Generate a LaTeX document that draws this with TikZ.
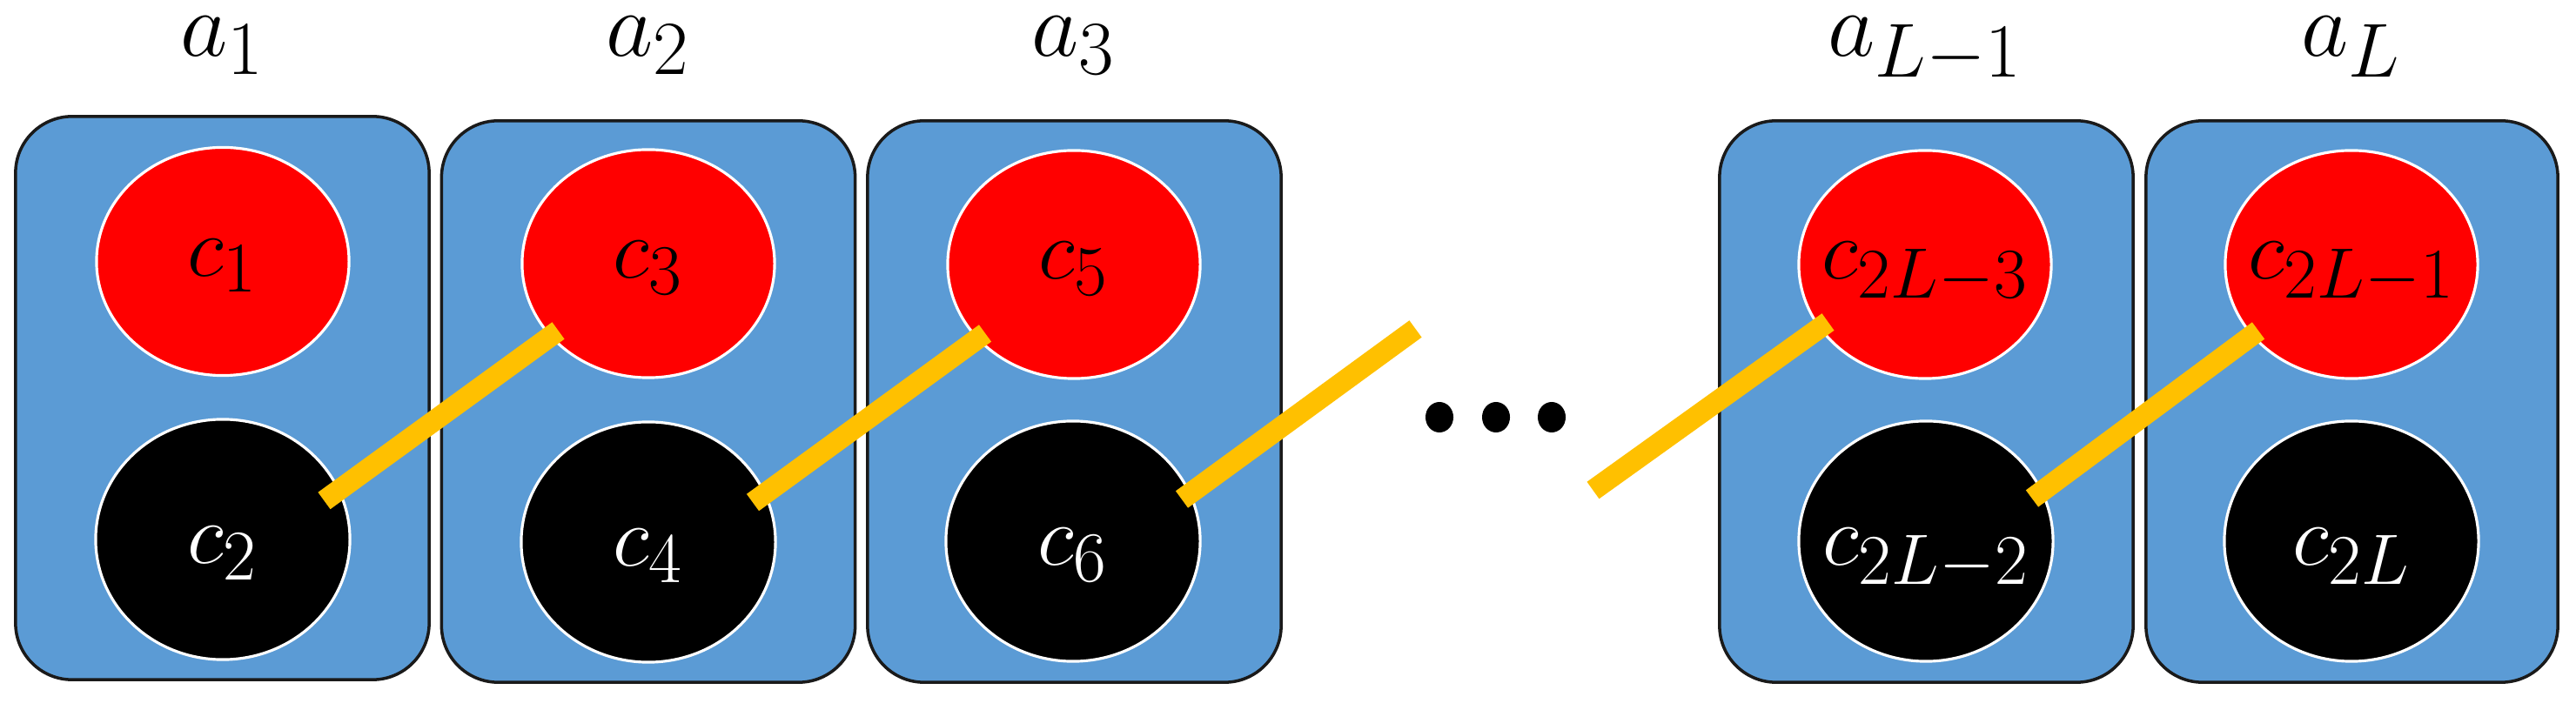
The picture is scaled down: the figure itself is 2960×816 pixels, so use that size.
\documentclass[tikz,border=0pt]{standalone}
\usepackage{graphicx}
\usetikzlibrary{shapes.geometric,calc}
\definecolor{boxblue}{HTML}{5B9BD5}
\definecolor{bondyellow}{HTML}{FFC000}
\definecolor{boxedge}{HTML}{1A1A1A}
\newcommand{\celltext}[1]{\makebox[0pt]{\scalebox{1.125}{\Huge$c_{#1}$}}}
\newcommand{\labtext}[1]{\scalebox{1.206}{\Huge$a_{#1}$}}
\begin{document}
\begin{tikzpicture}[x=0.01cm,y=-0.01cm,
  unitbox/.style={draw=boxedge, line width=1pt, fill=boxblue, rounded corners=0.65cm,
    minimum width=4.75cm, minimum height=6.45cm, inner sep=0pt, outer sep=0pt},
  topc/.style={ellipse, draw=white, line width=0.9pt, fill=red, text=black,
    minimum width=2.9cm, minimum height=2.62cm, inner sep=0pt,
    text height=0.53cm, text depth=0.2cm},
  botc/.style={ellipse, draw=white, line width=0.9pt, fill=black, text=white,
    minimum width=2.92cm, minimum height=2.76cm, inner sep=0pt,
    text height=0.74cm, text depth=0.2cm},
  lab/.style={anchor=base, inner sep=0pt},
  bond/.style={draw=bondyellow, line width=0.24cm},
  edot/.style={ellipse, fill=black, minimum width=0.32cm, minimum height=0.35cm, inner sep=0pt}
]
\useasboundingbox (0,0) rectangle (2960,816);

% boxes
\node[unitbox, minimum height=6.47cm] (b1) at (255.5,457.5) {};
\node[unitbox] (b2) at (745,461.5) {};
\node[unitbox] (b3) at (1234.5,461.5) {};
\node[unitbox] (b4) at (2213.5,461.5) {};
\node[unitbox, minimum width=4.73cm] (b5) at (2702.5,461.5) {};

% labels
\node[lab] (a1) at (256,65) {\labtext{1}};
\node[lab] (a2) at (745,65) {\labtext{2}};
\node[lab] (a3) at (1234,65) {\labtext{3}};
\node[lab] (a4) at (2212,65) {\labtext{L-1}};
\node[lab] (a5) at (2702,65) {\labtext{L}};

% cells
\node[topc] (c1) at (256,300.5) {\celltext{1}};
\node[botc] (c2) at (256,620) {\celltext{2}};
\node[topc] (c3) at (745,303) {\celltext{3}};
\node[botc] (c4) at (745,623) {\celltext{4}};
\node[topc] (c5) at (1234,304) {\celltext{5}};
\node[botc] (c6) at (1233,622) {\celltext{6}};
\node[topc] (c7) at (2212,304) {\celltext{2L-3}};
\node[botc] (c8) at (2213,622) {\celltext{2L-2}};
\node[topc] (c9) at (2702,304) {\celltext{2L-1}};
\node[botc] (c10) at (2702,622) {\celltext{2L}};

% ellipsis
\node[edot] (d1) at (1654,479.5) {};
\node[edot] (d2) at (1719,479.5) {};
\node[edot] (d3) at (1783,479.5) {};

% free ends
\coordinate (f1) at (1626.5,378);
\coordinate (f2) at (1830.5,563.5);

% bonds
\draw[bond] ($(c2.center)+(116.5,-44.5)$) -- ($(c3.center)+(-103.5,77)$);
\draw[bond] ($(c4.center)+(120,-45.5)$) -- ($(c5.center)+(-102,79)$);
\draw[bond] ($(c6.center)+(125,-48)$) -- (f1);
\draw[bond] (f2) -- ($(c7.center)+(-111.5,66)$);
\draw[bond] ($(c8.center)+(122,-49)$) -- ($(c9.center)+(-107,76)$);
\end{tikzpicture}
\end{document}
